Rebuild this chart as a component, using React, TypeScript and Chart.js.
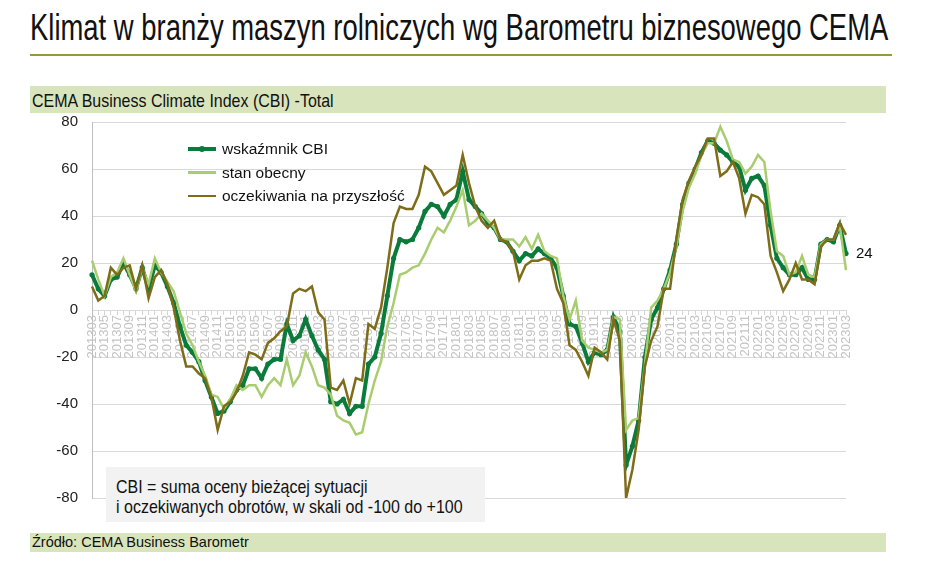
import { useEffect, useLayoutEffect, useRef } from "react";
import { Chart, registerables } from "chart.js";

Chart.register(...registerables);

// months 2013-03 .. 2023-03
const months = [
  "201303", "201304", "201305", "201306", "201307", "201308", "201309", "201310", "201311", "201312",
  "201401", "201402", "201403", "201404", "201405", "201406", "201407", "201408", "201409", "201410", "201411", "201412",
  "201501", "201502", "201503", "201504", "201505", "201506", "201507", "201508", "201509", "201510", "201511", "201512",
  "201601", "201602", "201603", "201604", "201605", "201606", "201607", "201608", "201609", "201610", "201611", "201612",
  "201701", "201702", "201703", "201704", "201705", "201706", "201707", "201708", "201709", "201710", "201711", "201712",
  "201801", "201802", "201803", "201804", "201805", "201806", "201807", "201808", "201809", "201810", "201811", "201812",
  "201901", "201902", "201903", "201904", "201905", "201906", "201907", "201908", "201909", "201910", "201911", "201912",
  "202001", "202002", "202003", "202004", "202005", "202006", "202007", "202008", "202009", "202010", "202011", "202012",
  "202101", "202102", "202103", "202104", "202105", "202106", "202107", "202108", "202109", "202110", "202111", "202112",
  "202201", "202202", "202203", "202204", "202205", "202206", "202207", "202208", "202209", "202210", "202211", "202212",
  "202301", "202302", "202303",
];

// wskaźnik CBI
const cbi = [
  15, 9, 6, 13, 14, 20, 15, 9, 18, 9,
  19, 16, 10, 3, -7, -15, -18, -22, -30, -37, -44, -43,
  -39, -34, -32, -25, -25, -29, -23, -21, -21, -6, -13, -11,
  -4, -11, -17, -21, -39, -40, -38, -44, -41, -41, -23, -20,
  -10, 6, 22, 30, 29, 30, 35, 42, 45, 44, 40, 45,
  47, 59, 47, 44, 41, 37, 35, 30, 29, 25, 21, 24,
  23, 26, 24, 22, 18, 6, -6, -7, -14, -22, -18, -19,
  -17, -3, -9, -66, -58, -47, -20, -4, 1, 9, 17, 28,
  45, 54, 60, 67, 72, 71, 68, 66, 63, 61, 51, 56,
  57, 53, 36, 22, 18, 15, 15, 18, 13, 13, 28, 30,
  29, 36, 24,
];

// stan obecny
const current = [
  21, 13, 6, 14, 16, 22, 15, 8, 18, 11,
  22, 16, 12, 8, -1, -10, -15, -22, -28, -36, -37, -42,
  -38, -32, -34, -32, -32, -37, -32, -29, -32, -21, -32, -28,
  -18, -24, -32, -33, -36, -45, -47, -48, -53, -52, -40, -30,
  -22, -7, 3, 15, 16, 18, 19, 24, 30, 35, 33, 38,
  44, 51, 36, 38, 41, 38, 35, 30, 30, 30, 27, 31,
  26, 32, 25, 23, 22, 6, -4, 4, -13, -16, -17, -18,
  -17, -3, -4, -51, -47, -46, -23, 1, 4, 9, 16, 27,
  42, 52, 58, 66, 71, 71, 78, 72, 64, 63, 58, 61,
  66, 63, 42, 25, 23, 15, 16, 23, 15, 14, 28, 30,
  30, 36, 17,
];

// oczekiwania na przyszłość
const expectations = [
  10, 4, 6, 18, 15, 18, 19, 9, 19, 5,
  14, 17, 11, 1, -13, -24, -24, -27, -29, -37, -51, -41,
  -39, -35, -28, -18, -19, -21, -14, -12, -9, -7, 7, 9,
  8, 10, -1, -4, -33, -34, -30, -40, -29, -30, -6, -8,
  1, 18, 37, 44, 43, 43, 49, 61, 59, 54, 49, 51,
  53, 66, 54, 44, 38, 35, 38, 30, 29, 25, 13, 19,
  21, 21, 22, 21, 9, 3, -15, -17, -22, -28, -16, -18,
  -21, -4, -13, -80, -68, -51, -24, -13, -7, 9, 9, 30,
  47, 55, 61, 66, 73, 73, 57, 59, 63, 56, 41, 49,
  48, 45, 23, 16, 8, 13, 20, 13, 13, 11, 27, 30,
  30, 37, 32,
];

const CBI_COLOR = "#0b7b3c";
const CURRENT_COLOR = "#a9cd6e";
const EXPECT_COLOR = "#7f6c18";

const SANS = "'Liberation Sans', Arial, sans-serif";

const lastValuePlugin = {
  id: "lastValue",
  afterDatasetsDraw(chart: any) {
    const meta = chart.getDatasetMeta(0);
    const pt = meta.data[meta.data.length - 1];
    if (!pt) return;
    const ctx = chart.ctx;
    ctx.save();
    ctx.font = "15px 'Liberation Sans', Arial, sans-serif";
    ctx.fillStyle = "#111";
    ctx.textAlign = "left";
    ctx.textBaseline = "middle";
    ctx.fillText(String(cbi[cbi.length - 1]), pt.x + 10, pt.y);
    ctx.restore();
  },
};

const legendItems = [
  { label: "wskaźmnik CBI", color: CBI_COLOR, width: 4, dot: true },
  { label: "stan obecny", color: CURRENT_COLOR, width: 2.5, dot: false },
  { label: "oczekiwania na przyszłość", color: EXPECT_COLOR, width: 2.5, dot: false },
];

// narrow text: Liberation Sans squeezed to the width it has in the picture
function NarrowText({ text, width, size, left, top, lineHeight }: any) {
  const ref = useRef<HTMLSpanElement>(null);
  useLayoutEffect(() => {
    const el = ref.current;
    if (!el) return;
    el.style.transform = "none";
    const w = el.offsetWidth;
    if (w > 0) el.style.transform = `scaleX(${width / w})`;
  }, [text, width]);
  return (
    <span
      ref={ref}
      style={{
        position: "absolute", left, top, fontFamily: SANS, fontSize: size, lineHeight: `${lineHeight}px`,
        whiteSpace: "nowrap", transformOrigin: "0 0", color: "#111", display: "inline-block",
      }}
    >
      {text}
    </span>
  );
}

export default function App() {
  const canvasRef = useRef<HTMLCanvasElement>(null);

  useEffect(() => {
    if (!canvasRef.current) return;
    const chart = new Chart(canvasRef.current, {
      type: "line",
      data: {
        labels: months,
        datasets: [
          {
            label: "wskaźmnik CBI",
            data: cbi,
            borderColor: CBI_COLOR,
            backgroundColor: CBI_COLOR,
            borderWidth: 4,
            pointRadius: 2.6,
            pointBorderWidth: 0,
            pointBackgroundColor: CBI_COLOR,
            order: 2,
          },
          {
            label: "stan obecny",
            data: current,
            borderColor: CURRENT_COLOR,
            borderWidth: 2.5,
            pointRadius: 0,
            order: 1,
          },
          {
            label: "oczekiwania na przyszłość",
            data: expectations,
            borderColor: EXPECT_COLOR,
            borderWidth: 2.5,
            pointRadius: 0,
            order: 0,
          },
        ],
      },
      options: {
        responsive: false,
        animation: false,
        layout: { padding: { left: 52, top: 122, right: 82, bottom: 70 } },
        plugins: {
          legend: { display: false },
          tooltip: { enabled: false },
        },
        scales: {
          x: {
            position: { y: 0 },
            grid: { drawOnChartArea: false, tickLength: 4, color: "#d4d4d4" },
            border: { color: "#d9d9d9" },
            ticks: {
              autoSkip: false,
              maxRotation: 90,
              minRotation: 90,
              padding: 1,
              color: "#c4c4c4",
              font: { size: 13, family: SANS },
              callback: (_v: any, i: number) => (i % 2 === 0 ? months[i] : ""),
            },
          },
          y: {
            min: -80,
            max: 80,
            ticks: { stepSize: 20, padding: 14, color: "#222", font: { size: 15, family: SANS } },
            grid: { color: "#d9d9d9", drawTicks: false },
            border: { color: "#bfbfbf" },
            afterFit: (s: any) => {
              s.width = 40;
            },
          },
        },
      },
      plugins: [lastValuePlugin],
    });
    return () => chart.destroy();
  }, []);

  return (
    <div style={{ position: "absolute", left: 0, top: 0, width: 928, height: 568, background: "#fff", overflow: "hidden" }}>
      <NarrowText
        text="Klimat w branży maszyn rolniczych wg Barometru biznesowego CEMA"
        width={858} size={36} left={30} top={10} lineHeight={36}
      />
      <div style={{ position: "absolute", left: 30, top: 54, width: 862, height: 2, background: "#8f9b3e" }} />
      <div style={{ position: "absolute", left: 30, top: 86, width: 856, height: 27, background: "#d8e4bc" }} />
      <NarrowText text="CEMA Business Climate Index (CBI) -Total" width={302} size={18.5} left={32} top={91} lineHeight={20} />
      <canvas ref={canvasRef} width={928} height={568} style={{ position: "absolute", left: 0, top: 0 }} />
      {legendItems.map((it, k) => (
        <div key={it.label} style={{ position: "absolute", left: 188, top: 149 + k * 23.5 - 10, height: 20, width: 260 }}>
          <div
            style={{
              position: "absolute", left: 0, top: 10 - it.width / 2, width: 28, height: it.width, background: it.color,
            }}
          />
          {it.dot && (
            <div
              style={{
                position: "absolute", left: 11, top: 7, width: 6, height: 6, borderRadius: 3, background: it.color,
              }}
            />
          )}
          <div
            style={{
              position: "absolute", left: 34, top: 0, lineHeight: "20px", fontFamily: SANS, fontSize: 15.5,
              color: "#111", whiteSpace: "nowrap",
            }}
          >
            {it.label}
          </div>
        </div>
      ))}
      <div style={{ position: "absolute", left: 106, top: 467, width: 379, height: 55, background: "#f2f2f2" }} />
      <NarrowText text="CBI = suma oceny bieżącej sytuacji" width={252} size={18.5} left={116} top={476.6} lineHeight={20} />
      <NarrowText
        text="i oczekiwanych obrotów, w skali od -100 do +100"
        width={347} size={18.5} left={116} top={496.6} lineHeight={20}
      />
      <div style={{ position: "absolute", left: 30, top: 533, width: 856, height: 19, background: "#d8e4bc" }} />
      <div
        style={{
          position: "absolute", left: 32, top: 532.8, fontFamily: SANS, fontSize: 14.5, lineHeight: "19px",
          color: "#111", whiteSpace: "nowrap",
        }}
      >
        Źródło: CEMA Business Barometr
      </div>
    </div>
  );
}
